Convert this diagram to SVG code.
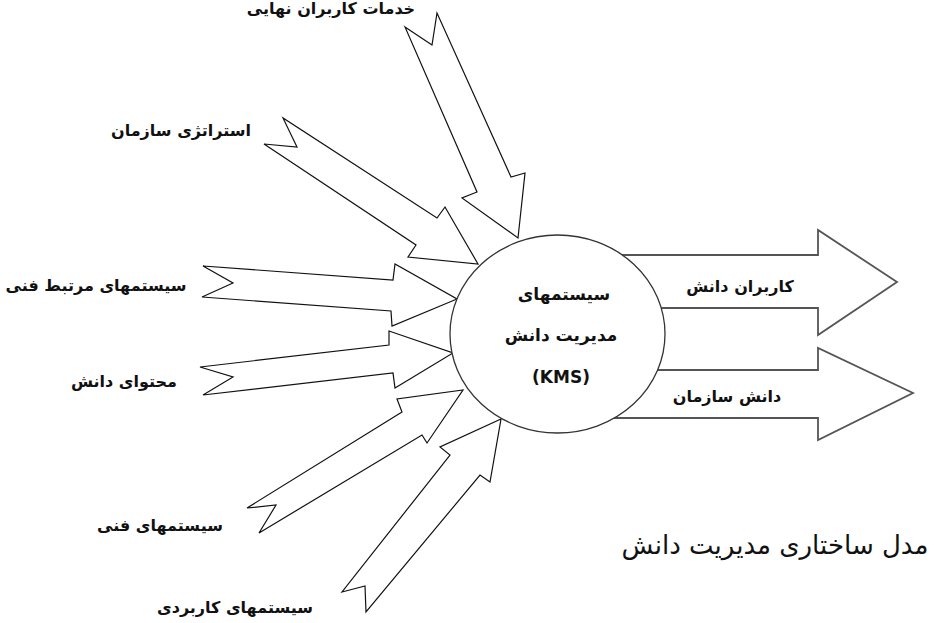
<svg xmlns="http://www.w3.org/2000/svg" width="939" height="623" viewBox="0 0 939 623">
<style>
.ar{fill:#fff;stroke:#111;stroke-width:1.2;stroke-linejoin:miter}
.ro{fill:#fff;stroke:#555;stroke-width:1.8}
.lb{font-family:"DejaVu Sans",sans-serif;font-size:16px;font-weight:bold;fill:#111;text-anchor:middle}
.ct{font-family:"DejaVu Sans",sans-serif;font-size:17px;font-weight:bold;fill:#111;text-anchor:middle}
.cap{font-family:"DejaVu Sans",sans-serif;font-size:26px;fill:#111;text-anchor:middle}
</style>
<rect width="939" height="623" fill="#fff"/>
<g id="connectors">
<polygon class="ar" points="405,27 432,45 437,13 511,177 525,173 518,238 462,198 477,192"/>
<polygon class="ar" points="264,144 297,147 283,118 437,218 445,207 478,264 408,257 416,245"/>
<polygon class="ar" points="203,266 233,283 202,297 391,311 392,326 457,299 395,264 393,280"/>
<polygon class="ar" points="200,367 233,377 203,395 393,373 395,388 453,353 389,331 389,345"/>
<polygon class="ar" points="247,508 276,505 259,533 422,435 427,443 463,390 397,399 402,412"/>
<polygon class="ar" points="342,592 365,586 366,612 480,475 490,482 501,419 440,447 450,455"/>
<polygon class="ro" points="560,255 818,255 818,230 897,282 818,335 818,308 560,308"/>
<polygon class="ro" points="560,370 818,370 818,348 913,393 818,440 818,418 560,418"/>
</g>
<g id="kms">
<ellipse cx="557.5" cy="334" rx="107.5" ry="99" fill="#fff" stroke="#333" stroke-width="1.3"/>
<text class="ct" x="564" y="300">سیستمهای</text>
<text class="ct" x="561" y="341">مدیریت دانش</text>
<text class="ct" x="561" y="383">(KMS)</text>
</g>
<g id="n-end-users"><text class="lb" x="331" y="14">خدمات کاربران نهایی</text></g>
<g id="n-strategy"><text class="lb" x="181" y="136">استراتژی سازمان</text></g>
<g id="n-related-tech"><text class="lb" x="96" y="291">سیستمهای مرتبط فنی</text></g>
<g id="n-content"><text class="lb" x="124" y="387">محتوای دانش</text></g>
<g id="n-tech"><text class="lb" x="160" y="531">سیستمهای فنی</text></g>
<g id="n-apps"><text class="lb" x="235" y="613">سیستمهای کاربردی</text></g>
<g id="n-knowledge-users"><text class="lb" x="740" y="292">کاربران دانش</text></g>
<g id="n-org-knowledge"><text class="lb" x="727" y="402">دانش سازمان</text></g>
<g id="caption"><text class="cap" x="775" y="554">مدل ساختاری مدیریت دانش</text></g>
</svg>
